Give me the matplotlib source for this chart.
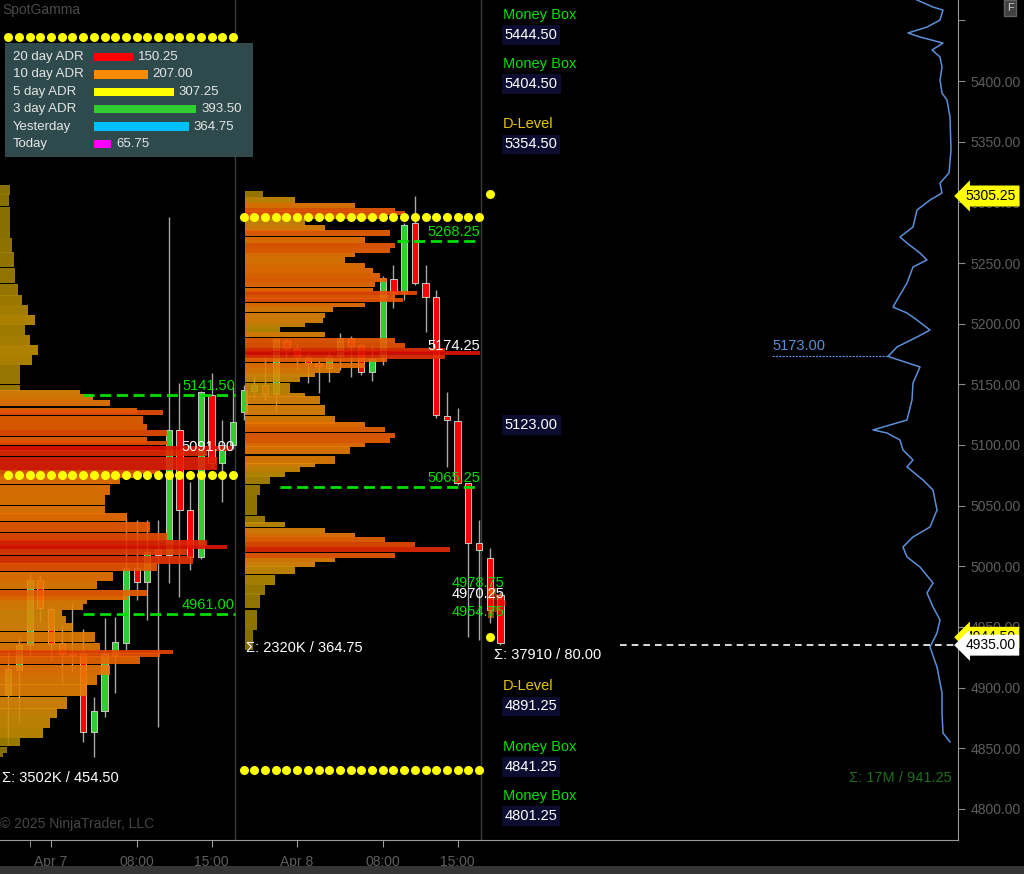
import numpy as np
import matplotlib
matplotlib.use("Agg")
import matplotlib.pyplot as plt
import matplotlib.transforms as mtransforms
from matplotlib.colors import LinearSegmentedColormap

plt.rcParams['font.family'] = ['Liberation Sans', 'DejaVu Sans']

# ---------------- data ----------------
# hourly candles (bar index, 0 = Apr 7 00:00)
bar_idx = list(range(-4, 43))
opens = [4893.9, 4914.5, 4935.2, 4988.7, 4964.8, 4936.8, 4928.0, 4927.7, 4863.4, 4880.8,
         4926.1, 4936.8, 4998.6, 4987.1, 5013.4, 5009.3, 5112.4, 5046.4, 5007.7, 5141.2,
         5085.2, 5100.0,
         5127.2, 5144.5, 5149.4, 5142.0, 5185.7, 5180.0, 5172.5, 5167.6, 5163.5, 5173.3,
         5188.2, 5182.4, 5160.2, 5171.7, 5236.8, 5225.3, 5283.0, 5233.5, 5222.0, 5124.0,
         5119.8, 5068.7, 5019.2, 5006.9, 4976.4]
highs = [4931.0, 4941.7, 4995.3, 4992.8, 4966.5, 4951.6, 4969.8, 4948.3, 4892.3, 4957.4,
         4958.2, 5040.6, 5038.2, 5038.2, 5038.2, 5287.9, 5151.1, 5069.5, 5144.5, 5159.3,
         5120.6, 5147.8,
         5149.4, 5156.9, 5174.2, 5188.0, 5188.2, 5184.1, 5175.8, 5170.1, 5178.3, 5192.3,
         5189.8, 5184.0, 5182.4, 5239.3, 5248.3, 5283.0, 5305.25, 5248.3, 5227.7, 5143.7,
         5130.5, 5069.0, 5038.2, 5015.1, 4978.8]
lows = [4852.7, 4870.9, 4925.3, 4954.1, 4922.8, 4903.8, 4912.9, 4855.2, 4842.8, 4875.8,
        4895.6, 4931.0, 4972.2, 4955.8, 4867.6, 4986.2, 4974.7, 4997.0, 5006.0, 5081.9,
        5053.0, 5097.0,
        5120.6, 5139.6, 5137.1, 5127.2, 5171.7, 5161.8, 5151.1, 5142.8, 5151.9, 5161.8,
        5156.0, 5157.7, 5152.7, 5165.9, 5212.9, 5219.5, 5231.9, 5193.1, 5122.2, 5081.9,
        5067.0, 4941.7, 4939.3, 4953.3, 4935.2]
closes = [4915.4, 4935.2, 4988.7, 4965.6, 4936.0, 4927.7, 4927.2, 4863.4, 4880.8, 4927.7,
          4937.6, 4998.6, 4987.1, 5011.8, 5009.3, 5112.4, 5046.4, 5007.7, 5143.7, 5085.2,
          5100.0, 5118.9,
          5145.3, 5149.4, 5142.0, 5187.4, 5180.0, 5172.5, 5167.6, 5165.1, 5173.3, 5188.2,
          5181.6, 5160.2, 5171.7, 5237.6, 5225.3, 5281.3, 5233.5, 5222.0, 5124.7, 5120.6,
          5068.7, 5019.2, 5013.4, 4964.0, 4936.8]

# session volume profiles: price level -> volume (profile units)
prof1_price = [5310.2, 5301.9, 5289.6, 5277.2, 5264.8, 5252.5, 5240.1, 5227.7, 5219.5, 5211.3,
               5203.0, 5194.8, 5186.5, 5178.3, 5170.0, 5161.8, 5153.6, 5147.0, 5143.7, 5139.6,
               5134.6, 5128.8, 5126.4, 5120.6, 5114.8, 5109.9, 5104.1, 5101.6, 5097.5, 5093.4,
               5087.6, 5081.9, 5077.7, 5074.4, 5071.1, 5062.9, 5054.7, 5046.4, 5040.6, 5032.4,
               5024.2, 5019.2, 5015.9, 5011.8, 5005.2, 4999.4, 4991.2, 4984.6, 4978.0, 4973.9,
               4970.6, 4966.5, 4961.5, 4955.8, 4950.0, 4941.7, 4933.5, 4929.4, 4926.9, 4922.8,
               4914.5, 4906.3, 4898.1, 4887.3, 4879.1, 4870.9, 4862.6, 4855.2, 4848.6, 4844.5]
prof1_vol = [10, 9, 10, 10, 12, 14, 15, 18, 22, 28,
             35, 25, 30, 38, 32, 20, 20, 20, 80, 93,
             110, 137, 163, 143, 147, 167, 147, 167, 233, 207,
             217, 217, 160, 140, 120, 110, 105, 105, 127, 150,
             167, 207, 227, 187, 193, 157, 113, 97, 147, 127,
             87, 83, 62, 66, 73, 95, 100, 173, 160, 140,
             110, 97, 87, 67, 57, 50, 43, 20, 7, 3]

prof2_price = [5306.9, 5301.9, 5297.8, 5293.7, 5291.2, 5287.9, 5283.8, 5278.8, 5274.7, 5269.0,
               5264.8, 5260.7, 5256.6, 5252.5, 5248.3, 5244.2, 5240.1, 5236.0, 5231.9, 5227.7,
               5225.3, 5222.0, 5219.5, 5215.4, 5211.3, 5207.1, 5203.0, 5198.9, 5194.8, 5190.7,
               5186.5, 5182.4, 5178.3, 5175.8, 5172.5, 5170.0, 5165.9, 5161.8, 5157.7, 5153.6,
               5149.4, 5145.3, 5141.2, 5137.1, 5128.8, 5120.6, 5116.5, 5112.4, 5108.2, 5104.1,
               5100.0, 5095.9, 5087.6, 5083.5, 5079.4, 5075.3, 5071.1, 5062.9, 5054.7, 5046.4,
               5038.2, 5034.1, 5029.9, 5025.8, 5021.7, 5017.6, 5013.5, 5009.3, 5005.2, 5001.1,
               4997.0, 4988.7, 4980.5, 4972.2, 4955.8, 4939.3]
prof2_vol = [18, 50, 110, 150, 160, 140, 60, 80, 145, 120,
             150, 145, 110, 100, 120, 128, 135, 142, 130, 128,
             172, 150, 158, 120, 88, 80, 78, 60, 35, 80,
             150, 160, 200, 235, 200, 142, 120, 95, 70, 55,
             45, 45, 60, 75, 80, 90, 120, 140, 150, 145,
             120, 105, 90, 70, 55, 40, 25, 15, 12, 12,
             20, 40, 80, 110, 140, 170, 205, 150, 90, 70,
             50, 30, 20, 15, 12, 8]

prof3_price = [4980.0, 4975.0, 4970.0, 4965.0, 4960.0]
prof3_vol = [8, 14, 18, 12, 6]

# cumulative line on the right (price, level)
cum_price = [5466.8, 5461.0, 5458.5, 5450.3, 5444.5, 5439.6, 5436.3, 5431.3, 5425.6, 5419.8,
             5411.5, 5400.8, 5390.1, 5384.3, 5370.3, 5343.1, 5324.2, 5315.9, 5307.7, 5301.9,
             5293.7, 5279.7, 5271.4, 5266.5, 5258.2, 5252.5, 5246.7, 5233.5, 5219.5, 5213.7,
             5208.8, 5203.0, 5194.8, 5189.0, 5180.8, 5173.0, 5164.3, 5151.1, 5137.1, 5120.6,
             5112.4, 5109.9, 5104.1, 5095.9, 5087.6, 5081.9, 5071.1, 5062.9, 5046.4, 5032.4,
             5024.2, 5015.9, 5007.7, 4999.4, 4986.3, 4978.0, 4966.5, 4955.8, 4945.0, 4933.5,
             4917.0, 4895.6, 4879.1, 4862.6, 4855.2]
cum_level = [917, 933, 943, 940, 927, 908, 920, 943, 932, 940,
             942, 940, 942, 947, 950, 951, 949, 940, 942, 930,
             917, 913, 900, 907, 920, 927, 913, 907, 897, 893,
             907, 917, 930, 917, 897, 888, 920, 913, 912, 907,
             873, 887, 900, 903, 913, 907, 923, 933, 937, 930,
             913, 903, 907, 920, 933, 927, 933, 940, 937, 930,
             937, 942, 942, 943, 950]

# ADR panel
adr_labels = ["20 day ADR", "10 day ADR", "5 day ADR", "3 day ADR", "Yesterday", "Today"]
adr_values = [150.25, 207.00, 307.25, 393.50, 364.75, 65.75]
adr_colors = ["#ff0000", "#ff8c00", "#ffff00", "#32cd32", "#00bfff", "#ff00ff"]

# levels
green_levels = [(5141.50, 3, 17.2), (4961.00, 3, 17.2), (5268.25, 32.3, 40.1), (5065.25, 21.4, 40.1)]
white_levels = [(5091.00, 17.2), (5174.25, 40.1)]
last_green = [4978.75, 4954.75]
last_white = 4970.25
dot_rows = [(5436.25, -4, 17), (5075.25, -4, 17), (5287.90, 18, 40), (4832.10, 18, 40)]
dot_single = [(41, 5306.9), (41, 4941.7)]
box_levels = [("Money Box", 5444.50), ("Money Box", 5404.50), ("D-Level", 5354.50), ("", 5123.00),
              ("D-Level", 4891.25), ("Money Box", 4841.25), ("Money Box", 4801.25)]
sums = [("Σ: 3502K / 454.50", -4.6, 4825.5), ("Σ: 2320K / 364.75", 18.2, 4932.7),
        ("Σ: 37910 / 80.00", 41.4, 4926.9)]
tick_pos = [0, 8, 15, 23, 31, 38]
tick_lab = ["Apr 7", "08:00", "15:00", "Apr 8", "08:00", "15:00"]

PROFILE_UNIT = 1 / 10.7

# ---------------- figure ----------------
W, H = 1024, 874
fig = plt.figure(figsize=(W / 100, H / 100), dpi=100, facecolor="black")
ax = fig.add_axes([0, 34 / H, 958 / W, 840 / H], facecolor="black")
ax.set_xlim(-4.77, 84.77)
ax.set_ylim(4774.4, 5466.8)

# session separators
for s in [17.2, 40.15]:
    ax.axvline(s, color="#3c3c3c", lw=1, zorder=1)

# candles
for i, o, h, l, c in zip(bar_idx, opens, highs, lows, closes):
    ax.vlines(i, l, h, color="#a8a8a8", lw=1, zorder=2)
    col = "#32cd32" if c >= o else "#ff0000"
    ax.bar(i, max(abs(c - o), 1.0), bottom=min(o, c), width=0.58, color=col,
           edgecolor="#c8c8c8", linewidth=0.7, zorder=3)

# volume profiles
cmap = LinearSegmentedColormap.from_list(
    "vp", [(0.0, "#8a7600"), (0.15, "#c09000"), (0.3, "#e08a08"), (0.55, "#f07000"),
           (0.78, "#e84000"), (1.0, "#e01000")])


def draw_profile(prices, vols, start, alpha=0.9):
    prices = np.array(prices)
    vols = np.array(vols, dtype=float)
    edges = np.concatenate([[prices[0] + (prices[0] - prices[1]) / 2],
                            (prices[:-1] + prices[1:]) / 2,
                            [prices[-1] - (prices[-2] - prices[-1]) / 2]])
    heights = edges[:-1] - edges[1:]
    colors = cmap(vols / vols.max())
    ax.barh(prices, vols * PROFILE_UNIT, height=heights, left=start, color=colors,
            alpha=alpha, linewidth=0, zorder=4)


draw_profile(prof1_price, prof1_vol, -4.77)
draw_profile(prof2_price, prof2_vol, 18.13)
draw_profile(prof3_price, prof3_vol, 40.85, alpha=0.6)

# key levels
for lvl, x0, x1 in green_levels:
    ax.plot([x0, x1], [lvl, lvl], color="#00e000", lw=2, ls=(0, (4, 2)), zorder=6)
    ax.text(x1, lvl + 1.5, f"{lvl:.2f}", color="#00e000", fontsize=10.5,
            ha="right", va="bottom", zorder=8)
for lvl, x1 in white_levels:
    ax.text(x1, lvl + 1.5, f"{lvl:.2f}", color="white", fontsize=10.5,
            ha="right", va="bottom", zorder=8)
for lvl in last_green:
    ax.text(42.4, lvl + 1.5, f"{lvl:.2f}", color="#00e000", fontsize=10.5,
            ha="right", va="bottom", zorder=8)
ax.text(42.4, last_white + 1.5, f"{last_white:.2f}", color="white", fontsize=10.5,
        ha="right", va="bottom", zorder=8)

for lvl, a, b in dot_rows:
    xs = np.arange(a, b + 1)
    ax.plot(xs, [lvl] * len(xs), "o", color="#ffff00", ms=6.5, mec="none", zorder=7)
for x, y in dot_single:
    ax.plot(x, y, "o", color="#ffff00", ms=6.5, mec="none", zorder=7)

for name, lvl in box_levels:
    if name:
        ax.text(42.2, lvl + 4, name, color="#00e000" if name == "Money Box" else "#e8c400",
                fontsize=10.5, ha="left", va="bottom", zorder=8)
    ax.text(42.4, lvl - 1, f"{lvl:.2f}", color="white", fontsize=10.5, ha="left", va="top",
            zorder=8, bbox=dict(boxstyle="square,pad=0.2", fc="#0c0c30", ec="none"))

for txt, x, y in sums:
    ax.text(x, y, txt, color="white", fontsize=10.5, ha="left", va="center", zorder=8)

# right-hand cumulative line
ax2 = ax.twiny()
ax2.set_xlim(0, 958)
ax2.set_ylim(ax.get_ylim())
ax2.axis("off")
ax2.plot(cum_level, cum_price, color="#5b8fd9", lw=1.1)
ax2.plot([772, 888], [5173.0, 5173.0], color="#5b8fd9", lw=0.8, ls=(0, (2, 1)))
ax2.text(772, 5175.5, "5173.00", color="#5b8fd9", fontsize=10.5, ha="left", va="bottom")
ax2.plot([620, 956], [4935.0, 4935.0], color="white", lw=1.2, ls=(0, (4, 3)))
ax2.text(952, 4825.5, "Σ: 17M / 941.25", color="#1f6e1f", fontsize=10.5, ha="right", va="center")

# axes styling
ax.yaxis.tick_right()
yt = np.arange(4800, 5451, 50)
ax.set_yticks(yt)
ax.set_yticklabels([f"{v:.2f}" if v < 5450 else "" for v in yt])
ax.tick_params(axis="y", colors="#8a8a8a", labelcolor="#5e5e5e", labelsize=10, length=5, pad=4)
ax.set_xticks(tick_pos)
ax.set_xticks([-2], minor=True)
ax.set_xticklabels(tick_lab)
ax.tick_params(axis="x", which="both", colors="#a0a0a0", labelcolor="#5e5e5e", labelsize=10,
               length=5, pad=6)
for side in ["top", "left"]:
    ax.spines[side].set_visible(False)
ax.spines["right"].set_color("#9a9a9a")
ax.spines["bottom"].set_color("#9a9a9a")

# price markers on the right scale
trans = mtransforms.blended_transform_factory(ax.transAxes, ax.transData)
ax.text(1.008, 4941.5, "4944.50", transform=trans, color="black", fontsize=10, va="center",
        ha="left", zorder=9, clip_on=False,
        bbox=dict(boxstyle="larrow,pad=0.25", fc="#ffff00", ec="none"))
ax.text(1.008, 4935.0, "4935.00", transform=trans, color="black", fontsize=10, va="center",
        ha="left", zorder=10, clip_on=False,
        bbox=dict(boxstyle="larrow,pad=0.25", fc="white", ec="none"))
ax.text(1.008, 5305.25, "5305.25", transform=trans, color="black", fontsize=10, va="center",
        ha="left", zorder=9, clip_on=False,
        bbox=dict(boxstyle="larrow,pad=0.25", fc="#ffff00", ec="none"))

# ADR panel
axl = fig.add_axes([5 / W, 1 - 157 / H, 248 / W, 114 / H], facecolor="#2e4a4c")
axl.set_xlim(-342, 612)
axl.set_ylim(5.75, -0.8)
axl.set_xticks([])
axl.set_yticks([])
for sp in axl.spines.values():
    sp.set_visible(False)
axl.barh(range(len(adr_values)), adr_values, height=0.48, color=adr_colors)
for i, (lab, v) in enumerate(zip(adr_labels, adr_values)):
    axl.text(-311, i, lab, color="#e6e6e6", fontsize=9.5, va="center", ha="left")
    axl.text(v + 19, i, f"{v:.2f}", color="#e6e6e6", fontsize=9.5, va="center", ha="left")

# chrome
fig.text(2 / W, 1 - 10 / H, "SpotGamma", color="#4a4a4a", fontsize=10, va="center", ha="left")
fig.text(0, 1 - 824 / H, "© 2025 NinjaTrader, LLC", color="#464646", fontsize=10,
         va="center", ha="left")
fig.text(1010 / W, 1 - 8 / H, "F", color="#cfcfcf", fontsize=8, va="center", ha="center",
         bbox=dict(boxstyle="square,pad=0.25", fc="#404040", ec="#606060"))
fig.patches.append(matplotlib.patches.Rectangle((0, 0), 1, 8 / H, transform=fig.transFigure,
                                                fc="#353535", ec="none"))

fig.savefig("out.png", dpi=100, facecolor="black")
